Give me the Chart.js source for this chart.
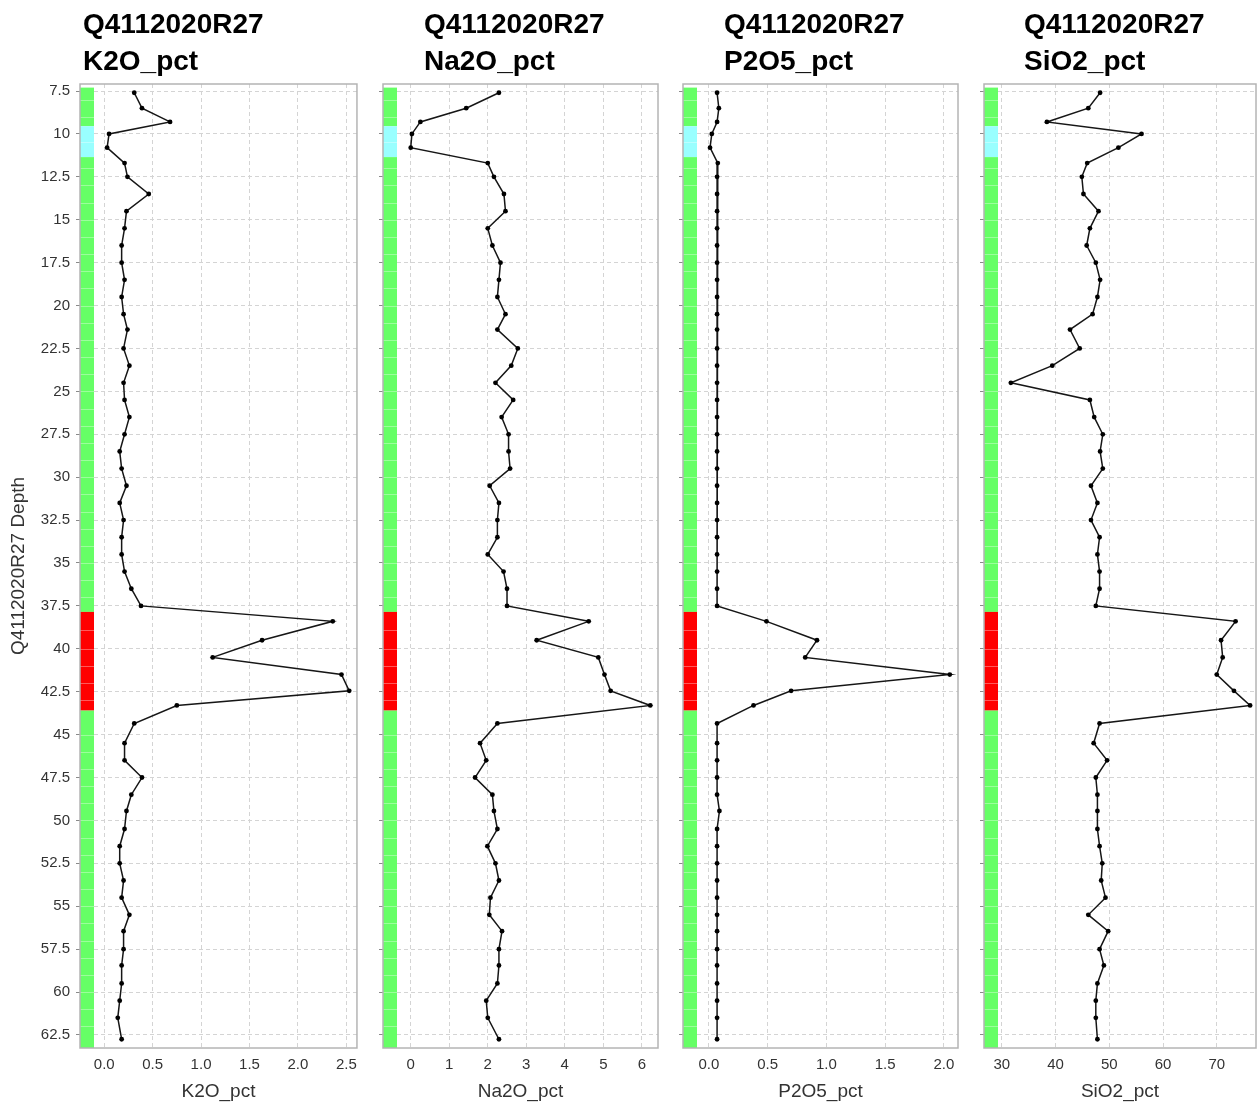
<!DOCTYPE html>
<html>
<head>
<meta charset="utf-8">
<title>Q4112020R27 geochemistry log</title>
<script src="https://cdn.jsdelivr.net/npm/chart.js@4/dist/chart.umd.min.js"></script>
<style>
  html, body { margin: 0; padding: 0; background: #ffffff; }
  #wrap { position: relative; width: 1260px; height: 1104px; overflow: hidden; }
  .panel { position: absolute; top: 0; }
  .ttl {
    position: absolute; top: 5px; margin: 0;
    font: bold 28px "Liberation Sans", Arial, sans-serif;
    line-height: 37px; color: #000; white-space: nowrap;
  }
</style>
</head>
<body>
<div id="wrap"></div>
<script>
// ---- borehole data -------------------------------------------------------
const holeId = 'Q4112020R27';

// sample depths (m)
const depthM = [7.6, 8.5, 9.3, 10.0, 10.8, 11.7, 12.5, 13.5, 14.5, 15.5,
  16.5, 17.5, 18.5, 19.5, 20.5, 21.4, 22.5, 23.5, 24.5, 25.5,
  26.5, 27.5, 28.5, 29.5, 30.5, 31.5, 32.5, 33.5, 34.5, 35.5,
  36.5, 37.5, 38.4, 39.5, 40.5, 41.5, 42.45, 43.3, 44.35, 45.5,
  46.5, 47.5, 48.5, 49.45, 50.5, 51.5, 52.5, 53.5, 54.5, 55.5,
  56.45, 57.5, 58.45, 59.5, 60.5, 61.5, 62.75];

const k2oPct = [0.31, 0.39, 0.68, 0.05, 0.03, 0.21, 0.24, 0.46, 0.23, 0.21,
  0.18, 0.18, 0.21, 0.18, 0.20, 0.24, 0.20, 0.26, 0.20, 0.21,
  0.26, 0.21, 0.16, 0.18, 0.23, 0.16, 0.20, 0.18, 0.18, 0.21,
  0.28, 0.38, 2.36, 1.63, 1.12, 2.45, 2.53, 0.75, 0.31, 0.21,
  0.21, 0.39, 0.28, 0.23, 0.21, 0.16, 0.16, 0.20, 0.18, 0.26,
  0.20, 0.20, 0.18, 0.18, 0.16, 0.14, 0.18];

const na2oPct = [2.29, 1.44, 0.25, 0.03, 0.00, 2.00, 2.16, 2.42, 2.46, 2.00,
  2.12, 2.33, 2.29, 2.25, 2.46, 2.25, 2.78, 2.61, 2.20, 2.66,
  2.36, 2.54, 2.54, 2.58, 2.05, 2.29, 2.25, 2.25, 2.00, 2.41,
  2.50, 2.50, 4.62, 3.27, 4.87, 5.03, 5.19, 6.22, 2.25, 1.80,
  1.96, 1.67, 2.12, 2.16, 2.25, 1.99, 2.20, 2.29, 2.07, 2.04,
  2.37, 2.29, 2.29, 2.25, 1.96, 2.00, 2.29];

const p2o5Pct = [0.07, 0.085, 0.07, 0.025, 0.01, 0.076, 0.07, 0.07, 0.07, 0.07,
  0.07, 0.07, 0.07, 0.07, 0.07, 0.07, 0.07, 0.07, 0.07, 0.07,
  0.07, 0.07, 0.07, 0.07, 0.07, 0.07, 0.07, 0.07, 0.07, 0.07,
  0.07, 0.07, 0.49, 0.92, 0.82, 2.05, 0.70, 0.38, 0.07, 0.07,
  0.07, 0.07, 0.07, 0.09, 0.07, 0.07, 0.07, 0.07, 0.07, 0.07,
  0.07, 0.07, 0.07, 0.07, 0.07, 0.07, 0.07];

const sio2Pct = [48.3, 46.1, 38.4, 56.0, 51.7, 45.9, 44.9, 45.2, 48.0, 46.4,
  45.8, 47.5, 48.3, 47.8, 46.9, 42.7, 44.5, 39.4, 31.7, 46.4,
  47.2, 48.8, 48.3, 48.8, 46.6, 47.8, 46.6, 48.2, 47.8, 48.2,
  48.2, 47.5, 73.5, 70.8, 71.1, 70.0, 73.2, 76.2, 48.2, 47.1,
  49.6, 47.5, 47.8, 47.8, 47.8, 48.2, 48.7, 48.5, 49.3, 46.1,
  49.8, 48.2, 49.0, 47.8, 47.5, 47.5, 47.8];

// lithology units down the hole
const lithoTop  = [7.3, 9.55, 11.35, 37.85, 43.6];
const lithoBase = [9.55, 11.35, 37.85, 43.6, 63.3];
const lithoCode = ['G', 'B', 'G', 'R', 'G'];
const lithoColour = { G: '#66ff66', B: '#99ffff', R: '#ff0000' };
// sample-interval breaks drawn inside the lithology column
const intervalBreaks = [8.0, 9.0, 10.45, 12, 13, 14, 15, 16, 17, 18, 19, 20,
  21, 22, 23, 24, 25, 26, 27, 28, 29, 30, 31, 32, 33, 34, 35, 36, 37,
  38.9, 40, 41, 42, 43, 45, 46, 47, 48, 49, 50, 51, 52, 53, 54, 55,
  56, 57, 58, 59, 60, 61, 62];

// depth axis ticks
const depthTicks = [7.5, 10, 12.5, 15, 17.5, 20, 22.5, 25, 27.5, 30, 32.5,
  35, 37.5, 40, 42.5, 45, 47.5, 50, 52.5, 55, 57.5, 60, 62.5];

const analytes = ['K2O_pct', 'Na2O_pct', 'P2O5_pct', 'SiO2_pct'];
const analyteValues = [k2oPct, na2oPct, p2o5Pct, sio2Pct];
const xRangeMin = [-0.25, -0.72, -0.22, 26.7];
const xRangeMax = [2.61, 6.42, 2.12, 77.3];
const xTickStep = [0.5, 1, 0.5, 10];
const xTickDecimals = [1, 0, 1, 0];

// ---- layout of the four tracks ----------------------------------------
const TRACKS = [
  { left: 0,   width: 365, axisW: 80, padR: 7, titleLeft: 83 },
  { left: 365, width: 300, axisW: 18, padR: 7, titleLeft: 424 },
  { left: 665, width: 300, axisW: 18, padR: 7, titleLeft: 724 },
  { left: 965, width: 295, axisW: 19, padR: 1, titleLeft: 1024 }
];
const H = 1104, PLOT_TOP = 84, XAXIS_H = 56;
const FONT = '"Liberation Sans", Arial, sans-serif';
const TEXT = '#333333';

// lithology column at the left edge of each track
const lithoColumn = {
  id: 'lithoColumn',
  beforeDatasetsDraw(chart) {
    const { ctx, chartArea } = chart;
    const y = chart.scales.y;
    const x0 = chartArea.left, w = 14;
    ctx.save();
    for (let i = 0; i < lithoTop.length; i++) {
      const yt = Math.max(y.getPixelForValue(lithoTop[i]), chartArea.top);
      const yb = Math.min(y.getPixelForValue(lithoBase[i]), chartArea.bottom);
      ctx.fillStyle = lithoColour[lithoCode[i]];
      ctx.fillRect(x0, yt, w, yb - yt);
    }
    ctx.strokeStyle = 'rgba(255,255,255,0.35)';
    ctx.lineWidth = 1;
    intervalBreaks.forEach(d => {
      const py = Math.round(y.getPixelForValue(d)) + 0.5;
      ctx.beginPath();
      ctx.moveTo(x0, py);
      ctx.lineTo(x0 + w, py);
      ctx.stroke();
    });
    ctx.restore();
  }
};

// light frame around the plotting area
const plotFrame = {
  id: 'plotFrame',
  afterDatasetsDraw(chart) {
    const { ctx, chartArea: a } = chart;
    ctx.save();
    ctx.strokeStyle = '#b4b4b4';
    ctx.lineWidth = 1.5;
    ctx.strokeRect(a.left, a.top, a.right - a.left, a.bottom - a.top);
    ctx.restore();
  }
};

const wrap = document.getElementById('wrap');

TRACKS.forEach((t, i) => {
  const box = document.createElement('div');
  box.className = 'panel';
  box.style.left = t.left + 'px';
  box.style.width = t.width + 'px';
  box.style.height = H + 'px';
  const cv = document.createElement('canvas');
  cv.width = t.width; cv.height = H;
  cv.style.width = t.width + 'px'; cv.style.height = H + 'px';
  box.appendChild(cv);
  wrap.appendChild(box);

  const ttl = document.createElement('div');
  ttl.className = 'ttl';
  ttl.style.left = t.titleLeft + 'px';
  ttl.innerHTML = holeId + '<br>' + analytes[i];
  wrap.appendChild(ttl);

  const vals = analyteValues[i];
  const pts = depthM.map((d, k) => ({ x: vals[k], y: d }));
  const first = i === 0;

  new Chart(cv, {
    type: 'scatter',
    data: {
      datasets: [{
        label: analytes[i],
        data: pts,
        showLine: true,
        borderColor: '#161616',
        borderWidth: 1.5,
        pointRadius: 2.4,
        pointBackgroundColor: '#000',
        pointBorderColor: '#000',
        pointBorderWidth: 0,
        tension: 0
      }]
    },
    options: {
      responsive: false,
      animation: false,
      events: [],
      layout: { padding: { top: PLOT_TOP, right: t.padR, bottom: 0, left: 0 } },
      plugins: { legend: { display: false }, tooltip: { enabled: false }, title: { display: false } },
      scales: {
        x: {
          type: 'linear',
          position: 'bottom',
          min: xRangeMin[i],
          max: xRangeMax[i],
          afterFit: s => { s.height = XAXIS_H; },
          ticks: {
            stepSize: xTickStep[i],
            includeBounds: false,
            padding: 8,
            maxRotation: 0,
            autoSkip: false,
            color: TEXT,
            font: { family: FONT, size: 15 },
            callback: v => Number(v).toFixed(xTickDecimals[i])
          },
          grid: { color: '#d4d4d4', lineWidth: 1, drawTicks: false },
          border: { display: false, dash: [4, 3] },
          title: {
            display: true, text: analytes[i], color: TEXT,
            font: { family: FONT, size: 19 },
            padding: { top: 4, bottom: 1 }
          }
        },
        y: {
          type: 'linear',
          position: 'left',
          reverse: true,
          min: 7.09,
          max: 63.26,
          afterFit: s => { s.width = t.axisW; },
          afterBuildTicks: s => { s.ticks = depthTicks.map(v => ({ value: v })); },
          ticks: {
            display: first,
            padding: 6,
            autoSkip: false,
            color: TEXT,
            font: { family: FONT, size: 15 },
            callback: v => String(v)
          },
          grid: { color: '#d4d4d4', lineWidth: 1, drawTicks: true, tickLength: 4, tickColor: '#8a8a8a' },
          border: { display: false, dash: [4, 3] },
          title: {
            display: first, text: holeId + ' Depth', color: TEXT,
            font: { family: FONT, size: 19 },
            padding: { top: 7, bottom: 0 }
          }
        }
      }
    },
    plugins: [lithoColumn, plotFrame]
  });
});
</script>
</body>
</html>
